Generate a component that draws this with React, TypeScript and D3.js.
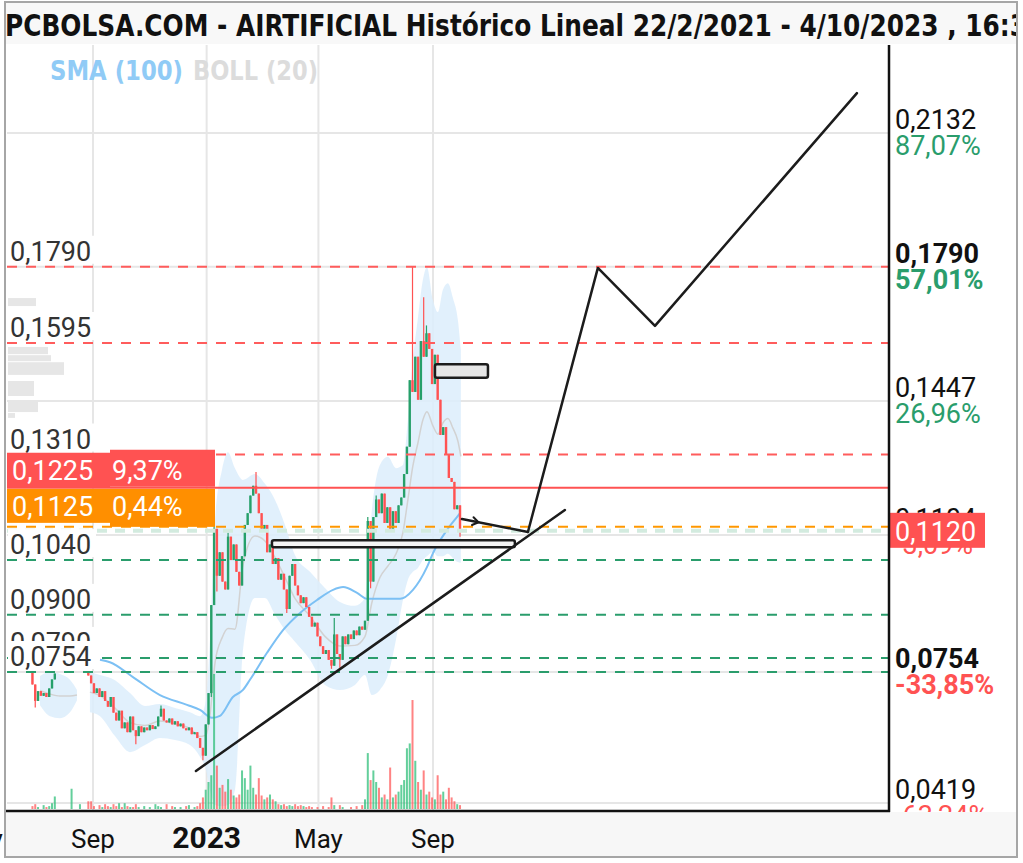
import React from 'react';
import * as d3 from 'd3';

// ---------- DATA ----------
const START = new Date(2022, 5, 28); // first candle
const STEP_DAYS = 3;

const closes: (number | null)[] = [
  0.0722, 0.0680, 0.0705, 0.0693, 0.0700, 0.0690, 0.0712, 0.0735, 0.0750, null,
  null, null, null, null, null, null, null, null, null, null,
  0.0745, 0.0725, 0.0700, 0.0712, 0.0690, 0.0705, 0.0680, 0.0665, 0.0690, 0.0650,
  0.0630, 0.0655, 0.0610, 0.0625, 0.0600, 0.0640, 0.0605, 0.0590, 0.0615, 0.0600,
  0.0612, 0.0605, 0.0618, 0.0608, 0.0615, 0.0640, 0.0660, 0.0630, 0.0625, 0.0635,
  0.0620, 0.0628, 0.0615, 0.0622, 0.0610, 0.0605, 0.0612, 0.0595, 0.0600, 0.0585,
  0.0560, 0.0540, 0.0620, 0.0700, 0.0925, 0.1120, 0.1000, 0.1060, 0.0985, 0.0965,
  0.1100, 0.1040, 0.1080, 0.1010, 0.0975, 0.1050, 0.1130, 0.1160, 0.1205, 0.1230,
  0.1210, 0.1160, 0.1120, 0.1130, 0.1060, 0.1080, 0.1030, 0.1045, 0.0990, 0.1005,
  0.0965, 0.0915, 0.1000, 0.1030, 0.0975, 0.0950, 0.0930, 0.0945, 0.0920, 0.0895,
  0.0870, 0.0880, 0.0845, 0.0820, 0.0800, 0.0810, 0.0785, 0.0770, 0.0850, 0.0800,
  0.0785, 0.0845, 0.0825, 0.0850, 0.0838, 0.0860, 0.0848, 0.0870, 0.0862, 0.0885,
  0.1140, 0.0985, 0.1150, 0.1195, 0.1160, 0.1210, 0.1135, 0.1175, 0.1120, 0.1165,
  0.1135, 0.1180, 0.1200, 0.1260, 0.1330, 0.1500, 0.1470, 0.1560, 0.1450, 0.1600,
  0.1560, 0.1620, 0.1580, 0.1490, 0.1565, 0.1450, 0.1360, 0.1380, 0.1310, 0.1250,
  0.1240, 0.1170, 0.1180, 0.1120,
];
const openOverrides: [number, number][] = [[0, 0.0754], [20, 0.0754]];
const wickHighs: [number, number][] = [
  [0, 0.0754], [46, 0.0668], [65, 0.1135], [70, 0.1110], [80, 0.1265], [108, 0.0892],
  [120, 0.1150], [123, 0.1205], [136, 0.1790], [140, 0.1712], [141, 0.1640],
];
const wickLows: [number, number][] = [
  [1, 0.0663], [37, 0.0569], [61, 0.0528], [64, 0.0690], [66, 0.0960], [91, 0.0905],
  [107, 0.0762], [110, 0.0765], [121, 0.0968], [153, 0.1100],
];
const volumes: number[] = [
  3, 5, 2, 0, 4, 2, 3, 6, 13, 0,
  0, 0, 0, 0, 21, 0, 0, 5, 0, 0,
  8, 8, 3, 0, 4, 2, 5, 3, 2, 5,
  3, 6, 2, 6, 3, 2, 2, 5, 2, 0,
  3, 0, 2, 0, 5, 3, 2, 0, 5, 0,
  3, 2, 0, 2, 0, 3, 4, 0, 2, 3,
  6, 12, 20, 28, 35, 140, 45, 22, 25, 18,
  31, 20, 14, 12, 15, 40, 32, 20, 45, 22,
  15, 32, 14, 10, 12, 15, 10, 8, 5, 4,
  5, 3, 4, 3, 5, 3, 4, 3, 2, 3,
  2, 0, 2, 0, 3, 0, 2, 12, 4, 0,
  4, 2, 0, 0, 2, 0, 3, 0, 4, 10,
  58, 30, 40, 28, 22, 12, 15, 10, 43, 12,
  15, 18, 25, 30, 63, 68, 113, 50, 28, 20,
  40, 15, 18, 12, 10, 35, 15, 18, 10, 22,
  12, 8, 5, 4,
];

// indicators: day offsets from START
const smaDays = [72.5, 83.2, 107.9, 136.9, 165.9, 179.9, 192.7, 201.3, 215.2, 226, 233.5, 251.8, 269, 287.3, 305.5, 322.7, 333.5, 348.5, 359.2, 394.6, 408.5, 423.5, 430, 445, 455.7, 459];
const smaValues = [0.0785, 0.0779, 0.0741, 0.0695, 0.0670, 0.0657, 0.0637, 0.0642, 0.0690, 0.0708, 0.0734, 0.0803, 0.0861, 0.0905, 0.0938, 0.0964, 0.0971, 0.0956, 0.0941, 0.0941, 0.0964, 0.1022, 0.1058, 0.1117, 0.1150, 0.1160];

const bollDays1 = [8.1, 18.8, 29.5, 40.3, 47.8];
const bollUpper1 = [0.0744, 0.0754, 0.0749, 0.0734, 0.0708];
const bollLower1 = [0.0669, 0.0641, 0.0636, 0.0651, 0.0682];
const bollDays2 = [61.7, 72.5, 88.6, 104.7, 120.8, 136.9, 153, 169.1, 179.8, 186.3, 190.6, 196, 203.4, 209.9, 217.4, 226, 238.8, 249.6, 260.4, 271.1, 281.8, 297.9, 314, 330.1, 346.2, 356.9, 364.4, 373, 381.6, 390.2, 397.7, 403, 408.4, 413.8, 419.1, 423.5, 429.9, 435.3, 440.6, 446, 451.4, 456.7, 459.9];
const bollUpper2 = [0.0754, 0.0746, 0.0733, 0.0700, 0.0667, 0.0672, 0.0662, 0.0651, 0.0641, 0.0682, 0.0836, 0.1142, 0.1270, 0.1316, 0.1275, 0.1245, 0.1260, 0.1235, 0.1194, 0.1130, 0.1053, 0.1010, 0.0969, 0.0933, 0.0923, 0.0943, 0.1168, 0.1283, 0.1304, 0.1275, 0.1283, 0.1398, 0.1552, 0.1659, 0.1756, 0.1789, 0.1705, 0.1674, 0.1731, 0.1748, 0.1710, 0.1654, 0.1577];
const bollLower2 = [0.0651, 0.0641, 0.0590, 0.0549, 0.0567, 0.0585, 0.0580, 0.0567, 0.0537, 0.0503, 0.0452, 0.0414, 0.0411, 0.0414, 0.0452, 0.0810, 0.0943, 0.0943, 0.0900, 0.0861, 0.0831, 0.0785, 0.0721, 0.0708, 0.0721, 0.0746, 0.0695, 0.0708, 0.0746, 0.0836, 0.0938, 0.0989, 0.1010, 0.1020, 0.1040, 0.1050, 0.1061, 0.1050, 0.1050, 0.1056, 0.1045, 0.1035, 0.1033];

// volume-by-price bars
const vpTop = [0.1710, 0.1585, 0.1564, 0.1546, 0.1498, 0.1447, 0.1416];
const vpBottom = [0.1687, 0.1564, 0.1546, 0.1511, 0.1457, 0.1416, 0.1401];
const vpSize = [28, 40, 43, 56, 26, 30, 7];

// levels
const redLevels = [0.1790, 0.1595, 0.1310];
const greenLevels = [0.1040, 0.0900, 0.0790, 0.0754];
const alertHigh = 0.1225;
const alertHighPct = '9,37%';
const alertLow = 0.1125;
const alertLowPct = '0,44%';
const lastPrice = 0.1120;

// right axis
const priceTicks = [0.2132, 0.1790, 0.1447, 0.1104, 0.0754, 0.0419];
const pctTicks = ['87,07%', '57,01%', '26,96%', '-3,09%', '-33,85%', '-63,24%'];
const boldTicks = [0.1790, 0.0754];

// time axis
const monthTicks: [string, string, boolean][] = [
  ['2022-05-01', 'May', false], ['2022-09-01', 'Sep', false], ['2023-01-01', '2023', true],
  ['2023-05-01', 'May', false], ['2023-09-01', 'Sep', false],
];

// user drawings: [day offset, price]
const trendLine: [number, number][] = [[175.5, 0.0501], [571.6, 0.1168]];
const projection: [number, number][] = [[531.9, 0.1112], [607, 0.1787], [668.3, 0.1639], [885.1, 0.2234]];
const arrowLine: [number, number][] = [[461.1, 0.1145], [531.9, 0.1112]];
const boxes: [number, number, number, number, string][] = [
  [257.1, 0.1091, 517.9, 0.1073, '#f4f4f4'],
  [432.1, 0.1541, 489, 0.1506, '#e6e6e6'],
];

// ---------- CHART ----------
const PL = 7, PR = 889, PT = 45, PB = 811;
const RED = '#ff5252';
const GREEN = '#26a06a';
const fmt = (v: number) => v.toFixed(4).replace('.', ',');
const dayDate = (d: number) => new Date(START.getTime() + d * 86400000);

export default function App() {
  const x = d3.scaleTime().domain([new Date(2022, 8, 1), new Date(2023, 8, 1)]).range([93, 433]);
  const y = d3.scaleLinear().domain([0.0419, 0.2132]).range([803, 133]);
  const vh = d3.scaleLinear().domain([0, 140]).range([0, 135]);
  const vpW = d3.scaleLinear().domain([0, 56]).range([0, 56]);
  const xd = (d: number) => x(dayDate(d));

  const hiMap = new Map(wickHighs);
  const loMap = new Map(wickLows);
  const opMap = new Map(openOverrides);
  const candles: { cx: number; o: number; c: number; h: number; l: number; up: boolean; i: number }[] = [];
  let prev: number | null = null;
  closes.forEach((c, i) => {
    if (c == null) return;
    const o = opMap.has(i) ? (opMap.get(i) as number) : prev != null ? prev : c;
    const h = Math.max(o, c, hiMap.get(i) ?? 0);
    const l = Math.min(o, c, loMap.get(i) ?? 1);
    candles.push({ cx: xd(i * STEP_DAYS), o, c, h, l, up: c >= o, i });
    prev = c;
  });
  const upByIndex = new Map(candles.map((k) => [k.i, k.up]));

  const bandArea = d3.area<number>().curve(d3.curveMonotoneX);
  const band1 = bollDays1.map((d, i) => ({ d, u: bollUpper1[i], l: bollLower1[i] }));
  const band2 = bollDays2.map((d, i) => ({ d, u: bollUpper2[i], l: bollLower2[i] }));
  const areaGen = d3.area<{ d: number; u: number; l: number }>()
    .x((p) => xd(p.d)).y0((p) => y(p.l)).y1((p) => y(p.u)).curve(d3.curveMonotoneX);
  const midGen = d3.line<{ d: number; u: number; l: number }>()
    .x((p) => xd(p.d)).y((p) => y((p.u + p.l) / 2)).curve(d3.curveMonotoneX);
  const smaGen = d3.line<number>().x((d) => xd(d)).y((_, i) => y(smaValues[i])).curve(d3.curveMonotoneX);
  const drawLine = d3.line<[number, number]>().x((p) => xd(p[0])).y((p) => y(p[1]));
  void bandArea;

  const gridMonths = monthTicks.slice(1).map((m) => x(new Date(m[0] + 'T00:00:00')));

  // arrow chevron on arrowLine
  const a0 = [xd(arrowLine[0][0]), y(arrowLine[0][1])];
  const a1 = [xd(arrowLine[1][0]), y(arrowLine[1][1])];
  const ang = Math.atan2(a1[1] - a0[1], a1[0] - a0[0]);
  const tip = [a0[0] + (a1[0] - a0[0]) * 0.25, a0[1] + (a1[1] - a0[1]) * 0.25];
  const chev = `M${tip[0] - 7 * Math.cos(ang - 0.6)},${tip[1] - 7 * Math.sin(ang - 0.6)} L${tip[0]},${tip[1]} L${tip[0] - 7 * Math.cos(ang + 0.6)},${tip[1] - 7 * Math.sin(ang + 0.6)}`;

  const leftLabels = [...redLevels, ...greenLevels];

  return (
    <div style={{ position: 'absolute', left: 0, top: 0 }}>
      <svg width={1023} height={863} style={{ display: 'block', background: '#fff' }} fontFamily="Roboto, 'Noto Sans', sans-serif">
        <defs>
          <clipPath id="plot"><rect x={PL} y={PT} width={PR - PL} height={PB - PT} /></clipPath>
          <clipPath id="title"><rect x={0} y={0} width={1017} height={45} /></clipPath>
        </defs>

        {/* title bar */}
        <rect x={6} y={3} width={1011} height={41} fill="#f8f8f8" />
        <text x={5} y={36} fontSize={30} fontWeight={700} fill="#111" clipPath="url(#title)"
          fontFamily="'DejaVu Sans Condensed', Roboto, sans-serif" textLength={1022} lengthAdjust="spacingAndGlyphs">
          PCBOLSA.COM - AIRTIFICIAL Histórico Lineal 22/2/2021 - 4/10/2023 , 16:3
        </text>

        {/* grid */}
        <g stroke="#e6e6e6" strokeWidth={2}>
          {gridMonths.map((gx, i) => <line key={'v' + i} x1={gx} x2={gx} y1={PT} y2={PB} />)}
          {priceTicks.map((p, i) => <line key={'h' + i} x1={PL} x2={PR} y1={y(p)} y2={y(p)} />)}
        </g>

        <g clipPath="url(#plot)">
          {/* volume by price */}
          {vpTop.map((t, i) => (
            <rect key={'vp' + i} x={PL + 1} y={y(t)} width={vpW(vpSize[i])} height={y(vpBottom[i]) - y(t) - 1} fill="#e6e6e6" />
          ))}

          {/* Bollinger */}
          <path d={areaGen(band1) || ''} fill="#dcedfb" fillOpacity={0.85} />
          <path d={areaGen(band2) || ''} fill="#dcedfb" fillOpacity={0.85} />
          <path d={midGen(band1) || ''} fill="none" stroke="#d2d2d2" strokeWidth={1.5} />
          <path d={midGen(band2) || ''} fill="none" stroke="#d2d2d2" strokeWidth={1.5} />

          {/* SMA 100 */}
          <path d={smaGen(smaDays) || ''} fill="none" stroke="#7cc0f4" strokeWidth={2} />

          {/* volume */}
          {volumes.map((v, i) => {
            if (!v) return null;
            const up = upByIndex.has(i) ? upByIndex.get(i) : true;
            const vx = xd(i * STEP_DAYS);
            return <rect key={'vol' + i} x={vx - 1} y={PB - 2 - vh(v)} width={2} height={vh(v)}
              fill={up ? '#2fbf7a' : '#ff5a5a'} fillOpacity={0.75} />;
          })}

          {/* candles */}
          {candles.map((k) => {
            const col = k.up ? GREEN : RED;
            const top = y(Math.max(k.o, k.c));
            const bh = Math.max(1.5, Math.abs(y(k.o) - y(k.c)));
            return (
              <g key={'c' + k.i}>
                <line x1={k.cx} x2={k.cx} y1={y(k.h)} y2={y(k.l)} stroke={col} strokeWidth={1.2} />
                <rect x={k.cx - 1.2} y={top} width={2.4} height={bh} fill={col} />
              </g>
            );
          })}

          {/* levels */}
          {redLevels.map((p, i) => (
            <line key={'rl' + i} x1={PL} x2={PR} y1={y(p)} y2={y(p)} stroke="#ff5c5c" strokeWidth={2} strokeDasharray="10,9" />
          ))}
          <line x1={PL} x2={PR} y1={y(lastPrice) + 2} y2={y(lastPrice) + 2} stroke="#d3ebdf" strokeWidth={4} strokeDasharray="10,8" />
          <line x1={PL} x2={PR} y1={y(alertHigh)} y2={y(alertHigh)} stroke={RED} strokeWidth={2} />
          <line x1={PL} x2={PR} y1={y(alertLow)} y2={y(alertLow)} stroke="#ff9800" strokeWidth={2} strokeDasharray="10,9" />
          {greenLevels.map((p, i) => (
            <line key={'gl' + i} x1={PL} x2={PR} y1={y(p)} y2={y(p)} stroke="#2a9d6c" strokeWidth={2} strokeDasharray="10,9" />
          ))}

          {/* drawings */}
          <g stroke="#1c1c1c" strokeWidth={2.5} fill="none" strokeLinecap="round" strokeLinejoin="round">
            {boxes.map((b, i) => (
              <rect key={'bx' + i} x={xd(b[0])} y={y(b[1])} width={xd(b[2]) - xd(b[0])} height={y(b[3]) - y(b[1])} fill={b[4]} rx={2} />
            ))}
            <path d={drawLine(trendLine) || ''} />
            <path d={drawLine(arrowLine) || ''} />
            <path d={chev} strokeWidth={2} />
            <path d={drawLine(projection) || ''} />
          </g>
        </g>

        {/* left level labels */}
        {leftLabels.map((p, i) => (
          <g key={'ll' + i}>
            <rect x={PL + 1} y={y(p) - 31} width={88} height={28} fill="#fff" />
            <text x={10} y={y(p) - 6} fontSize={27} fill="#333">{fmt(p)}</text>
          </g>
        ))}

        {/* alert boxes */}
        <rect x={PL} y={y(alertHigh) - 35} width={103} height={35} fill={RED} />
        <rect x={110} y={y(alertHigh) - 38} width={105} height={37} fill={RED} />
        <text x={12} y={y(alertHigh) - 8} fontSize={27} fill="#fff">{fmt(alertHigh)}</text>
        <text x={112} y={y(alertHigh) - 8} fontSize={27} fill="#fff">{alertHighPct}</text>
        <rect x={PL} y={y(alertLow) - 38} width={103} height={34} fill="#ff8f00" />
        <rect x={110} y={y(alertLow) - 38} width={105} height={38} fill="#ff8f00" />
        <text x={12} y={y(alertLow) - 11} fontSize={27} fill="#fff">{fmt(alertLow)}</text>
        <text x={112} y={y(alertLow) - 11} fontSize={27} fill="#fff">{alertLowPct}</text>

        {/* SMA / BOLL legend */}
        <text x={50} y={80} fontSize={26} fontWeight={700} fill="#90cbf6" fontFamily="'DejaVu Sans Condensed', Roboto, sans-serif" textLength={133} lengthAdjust="spacingAndGlyphs">SMA (100)</text>
        <text x={193} y={80} fontSize={26} fontWeight={700} fill="#dcdcdc" fontFamily="'DejaVu Sans Condensed', Roboto, sans-serif" textLength={125} lengthAdjust="spacingAndGlyphs">BOLL (20)</text>

        {/* right axis labels */}
        {priceTicks.map((p, i) => {
          const bold = boldTicks.includes(p);
          const special = p === 0.1104;
          const by = special ? 528 : y(p) - 4;
          const neg = pctTicks[i].startsWith('-');
          return (
            <g key={'rt' + i} fontWeight={bold ? 700 : 400}>
              <text x={895} y={by} fontSize={27} fill="#111">{fmt(p)}</text>
              <text x={895} y={by + 26} fontSize={27} fill={neg ? RED : '#2a9d6c'}>{pctTicks[i]}</text>
            </g>
          );
        })}

        {/* last price tag */}
        <rect x={890} y={y(lastPrice) - 16} width={95} height={35} fill={RED} />
        <text x={895} y={y(lastPrice) + 12} fontSize={27} fill="#fff">{fmt(lastPrice)}</text>

        {/* axes */}
        <rect x={6} y={812} width={1011} height={45} fill="#f7f7f7" />
        <line x1={PR} x2={PR} y1={PT} y2={PB + 1} stroke="#111" strokeWidth={2.5} />
        <line x1={6} x2={PR + 1} y1={PB} y2={PB} stroke="#111" strokeWidth={2.5} />
        {monthTicks.map((m, i) => (
          <text key={'mt' + i} x={x(new Date(m[0] + 'T00:00:00'))} y={848} textAnchor="middle"
            fontSize={m[2] ? 30 : 26} fontWeight={m[2] ? 700 : 400} fill="#111">{m[1]}</text>
        ))}

        {/* frame */}
        <rect x={5} y={2} width={1012} height={855} fill="none" stroke="#a6a6a6" strokeWidth={2} />
      </svg>
    </div>
  );
}
